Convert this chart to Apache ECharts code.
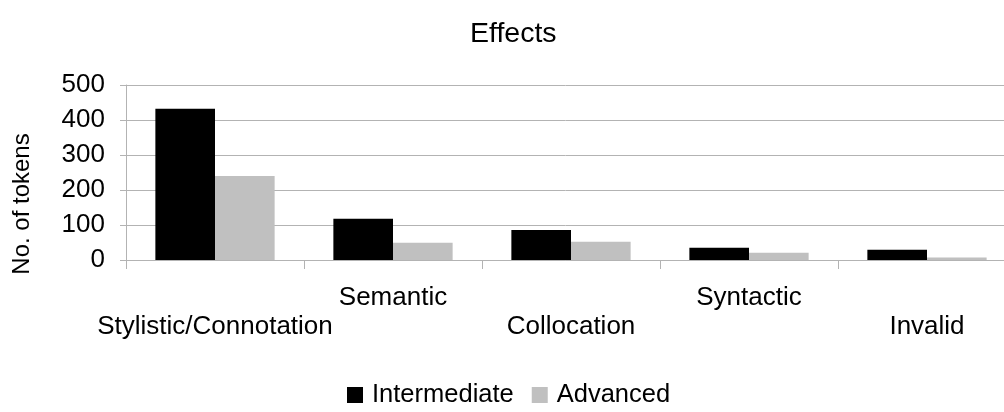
<!DOCTYPE html>
<html>
<head>
<meta charset="utf-8">
<script src="https://cdn.jsdelivr.net/npm/echarts@6/dist/echarts.min.js"></script>
<style>
  html, body { margin: 0; padding: 0; background: #fff; }
  #chart { width: 1004px; height: 412px; }
</style>
</head>
<body>
<div id="chart"></div>
<script>
// Categories of effect and token counts per learner level
const categories = ['Stylistic/Connotation', 'Semantic', 'Collocation', 'Syntactic', 'Invalid'];
const intermediate = [432, 118, 86, 35, 29];
const advanced = [240, 49, 52, 21, 7];
const yTicks = [0, 100, 200, 300, 400, 500];
const yTitle = 'No. of tokens';

const FONT = '"Liberation Sans", Arial, sans-serif';
const chart = echarts.init(document.getElementById('chart'));

chart.setOption({
  animation: false,
  textStyle: { fontFamily: FONT, color: '#000' },
  title: {
    text: 'Effects',
    left: 465,
    top: 15,
    textStyle: { fontFamily: FONT, fontSize: 28.5, fontWeight: 'normal', color: '#000' }
  },
  legend: {
    bottom: -1,
    left: 342,
    itemWidth: 16,
    itemHeight: 16,
    itemGap: 18,
    icon: 'rect',
    textStyle: { fontFamily: FONT, fontSize: 25.5, color: '#000', padding: [0, 0, 0, 4] },
    data: ['Intermediate', 'Advanced']
  },
  grid: {
    left: 126, top: 85, width: 890, height: 175,
    containLabel: false,
    outerBoundsMode: 'none'
  },
  // vertical axis title, placed beside the value axis
  graphic: [{
    type: 'text',
    x: 22,
    y: 204,
    rotation: Math.PI / 2,
    style: {
      text: yTitle,
      font: '24px "Liberation Sans", Arial, sans-serif',
      fill: '#000',
      align: 'center',
      verticalAlign: 'middle'
    }
  }],
  xAxis: {
    type: 'category',
    data: categories,
    axisLine: { lineStyle: { color: '#b3b3b3', width: 1 } },
    axisTick: { show: true, length: 9, lineStyle: { color: '#b3b3b3' } },
    axisLabel: {
      interval: 0,
      margin: 23,
      fontFamily: FONT,
      fontSize: 26,
      color: '#000',
      lineHeight: 29,
      // alternate labels are staggered onto two rows
      formatter: function (v, i) { return i % 2 === 0 ? '\n' + v : v; }
    }
  },
  yAxis: {
    type: 'value',
    min: yTicks[0],
    max: yTicks[yTicks.length - 1],
    interval: 100,
    axisLine: { show: true, lineStyle: { color: '#b3b3b3' } },
    axisTick: { show: true, length: 6, lineStyle: { color: '#b3b3b3' } },
    axisLabel: { fontFamily: FONT, fontSize: 26, color: '#000', margin: 21 },
    splitLine: { lineStyle: { color: '#b3b3b3', width: 1 } }
  },
  series: [
    {
      name: 'Intermediate',
      type: 'bar',
      data: intermediate,
      barGap: '0%',
      barCategoryGap: '33%',
      itemStyle: { color: '#000000' }
    },
    {
      name: 'Advanced',
      type: 'bar',
      data: advanced,
      barGap: '0%',
      barCategoryGap: '33%',
      itemStyle: { color: '#c0c0c0' }
    }
  ]
});
</script>
</body>
</html>
